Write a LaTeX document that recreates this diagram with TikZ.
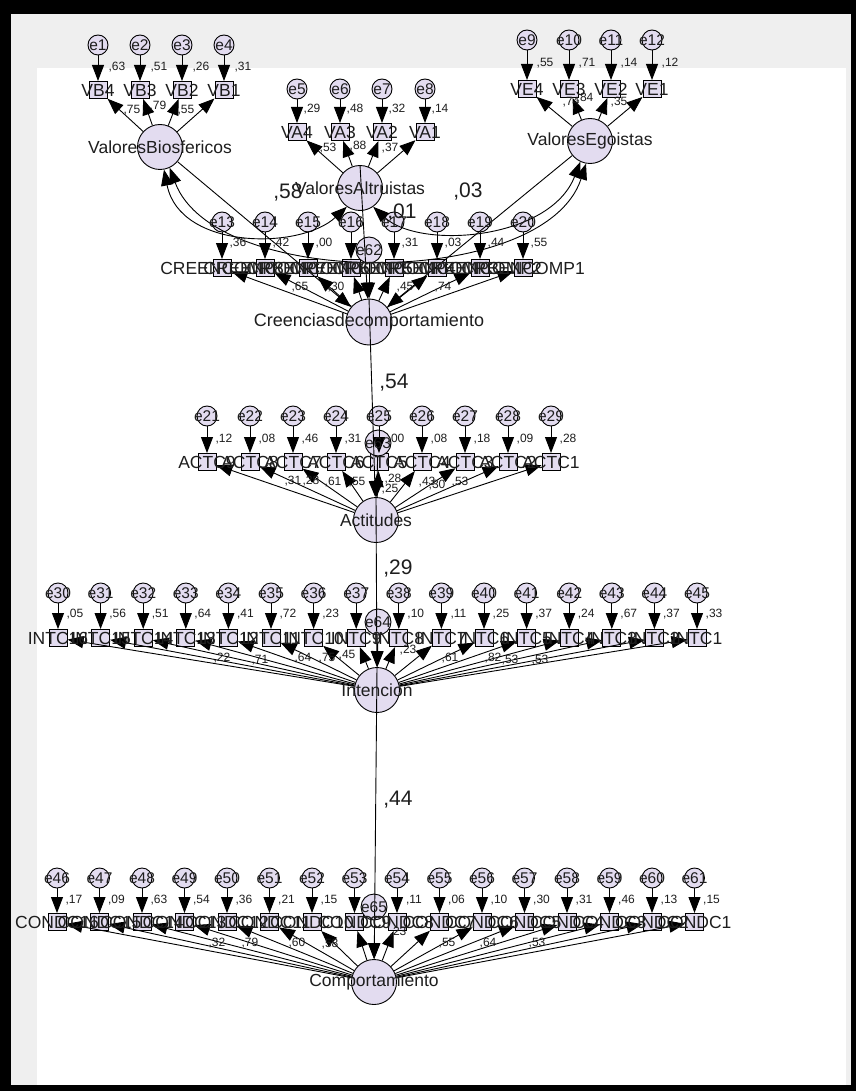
\documentclass[tikz,border=0pt]{standalone}
\usepackage{fontspec}
\setmainfont{Liberation Sans}
\usetikzlibrary{arrows.meta}
\definecolor{lav}{HTML}{E3DCF0}
\definecolor{bggray}{HTML}{EFEFEF}
\definecolor{ink}{HTML}{1E1E1E}
\begin{document}
\begin{tikzpicture}[x=1pt,y=-1pt,
  lat/.style={circle,draw,fill=lav,minimum size=45pt,inner sep=0pt,line width=0.9pt},
  errc/.style={circle,draw,fill=lav,minimum size=20pt,inner sep=0pt,line width=0.9pt},
  resc/.style={circle,draw,fill=lav,minimum size=26pt,inner sep=0pt,line width=0.9pt},
  obs/.style={rectangle,draw,fill=lav,minimum width=18pt,minimum height=17pt,inner sep=0pt,line width=1pt},
  nm/.style={font=\fontsize{17.5}{17.5}\selectfont,inner sep=0pt,text=ink},
  en/.style={font=\fontsize{15.5}{15.5}\selectfont,inner sep=0pt,text=ink},
  val/.style={font=\fontsize{12}{12}\selectfont,inner sep=0pt,text=ink},
  big/.style={font=\fontsize{21}{21}\selectfont,inner sep=0pt,text=ink},
  arr/.style={line width=0.9pt,-{Triangle[length=16pt,width=12pt]}},
  cov/.style={line width=0.9pt,{Triangle[length=16pt,width=12pt]}-{Triangle[length=16pt,width=12pt]}}
]
% frame
\fill[black] (0,0) rectangle (856,1091);
\fill[bggray] (11,14) rectangle (851,1085);
\fill[white] (37,68) rectangle (846,1085);
\useasboundingbox (0,0) rectangle (856,1091);

% latent variables
\node[lat] (VBl) at (160,147) {};
\node[lat] (VAl) at (360,188) {};
\node[lat] (VEl) at (590,141) {};
\node[lat,minimum size=46pt] (Cre) at (369,322) {};
\node[lat] (Act) at (376,520) {};
\node[lat] (Int) at (377,690) {};
\node[lat] (Comp) at (374,982) {};

% VB group
\foreach \i/\x/\n in {1/98/4,2/140/3,3/182/2,4/224/1}{
  \node[obs] (VB\n) at (\x,90) {};
  \node[errc] (e\i) at (\x,45) {};
}
% VA group
\foreach \i/\x/\n in {5/297/4,6/340/3,7/382/2,8/425/1}{
  \node[obs] (VA\n) at (\x,132) {};
  \node[errc] (e\i) at (\x,89) {};
}
% VE group
\foreach \i/\x/\n in {9/527/4,10/569/3,11/611/2,12/652/1}{
  \node[obs] (VE\n) at (\x,89) {};
  \node[errc] (e\i) at (\x,40) {};
}
% Creencias row
\foreach \k in {0,...,7}{
  \pgfmathsetmacro\xx{222+43*\k}
  \pgfmathtruncatemacro\ee{13+\k}
  \pgfmathtruncatemacro\nn{8-\k}
  \node[obs] (CR\nn) at (\xx,268) {};
  \node[errc] (e\ee) at (\xx,222) {};
}
% Actitudes row
\foreach \k in {0,...,8}{
  \pgfmathsetmacro\xx{207+43*\k}
  \pgfmathtruncatemacro\ee{21+\k}
  \pgfmathtruncatemacro\nn{9-\k}
  \node[obs] (AC\nn) at (\xx,462) {};
  \node[errc] (e\ee) at (\xx,416) {};
}
% Intencion row
\foreach \k in {0,...,15}{
  \pgfmathsetmacro\xx{58+42.6*\k}
  \pgfmathtruncatemacro\ee{30+\k}
  \pgfmathtruncatemacro\nn{16-\k}
  \node[obs] (IN\nn) at (\xx,638) {};
  \node[errc] (e\ee) at (\xx,593) {};
}
% Comportamiento row
\foreach \k in {0,...,15}{
  \pgfmathsetmacro\xx{57+42.5*\k}
  \pgfmathtruncatemacro\ee{46+\k}
  \pgfmathtruncatemacro\nn{16-\k}
  \node[obs] (CO\nn) at (\xx,922) {};
  \node[errc] (e\ee) at (\xx,878) {};
}
% residuals
\node[resc] (e62) at (369,250) {};
\node[resc] (e63) at (378,443) {};
\node[resc] (e64) at (378,622) {};
\node[resc] (e65) at (374,907) {};

% error -> indicator arrows and loadings
\foreach \i/\n in {1/4,2/3,3/2,4/1}{\draw[arr] (e\i) -- (VB\n); \draw[arr] (VBl) -- (VB\n);}
\foreach \i/\n in {5/4,6/3,7/2,8/1}{\draw[arr] (e\i) -- (VA\n); \draw[arr] (VAl) -- (VA\n);}
\foreach \i/\n in {9/4,10/3,11/2,12/1}{\draw[arr] (e\i) -- (VE\n); \draw[arr] (VEl) -- (VE\n);}
\foreach \k in {0,...,7}{
  \pgfmathtruncatemacro\ee{13+\k}\pgfmathtruncatemacro\nn{8-\k}
  \draw[arr] (e\ee) -- (CR\nn); \draw[arr] (Cre) -- (CR\nn);}
\foreach \k in {0,...,8}{
  \pgfmathtruncatemacro\ee{21+\k}\pgfmathtruncatemacro\nn{9-\k}
  \draw[arr] (e\ee) -- (AC\nn); \draw[arr] (Act) -- (AC\nn);}
\foreach \k in {0,...,15}{
  \pgfmathtruncatemacro\ee{30+\k}\pgfmathtruncatemacro\nn{16-\k}
  \draw[arr] (e\ee) -- (IN\nn); \draw[arr] (Int) -- (IN\nn);}
\foreach \k in {0,...,15}{
  \pgfmathtruncatemacro\ee{46+\k}\pgfmathtruncatemacro\nn{16-\k}
  \draw[arr] (e\ee) -- (CO\nn); \draw[arr] (Comp) -- (CO\nn);}

% covariances
\draw[cov] (VBl.-80) .. controls (180,250) and (300,250) .. (VAl.-125);
\draw[cov] (VBl.-65) .. controls (215,290) and (545,290) .. (VEl.-100);
\draw[cov] (VAl.-55) .. controls (420,250) and (550,240) .. (VEl.-115);

% structural paths
\draw[arr] (VBl) -- (Cre);
\draw[arr] (VEl) -- (Cre);
\draw[arr] (VAl.north) -- (Cre);
\draw[arr] (e62) -- (Cre);
\draw[arr] (Cre.north) -- (Act);
\draw[arr] (e63) -- (Act);
\draw[arr] (Act.north) -- (Int);
\draw[arr] (e64) -- (Int);
\draw[arr] (Int.north) -- (Comp);
\draw[arr] (e65) -- (Comp);

% ---- texts ----
\foreach \i/\x/\v in {1/98/63,2/140/51,3/182/26,4/224/31}{
  \node[en] at (e\i) {e\i}; \node[val] at (\x+19,67) {,\v};}
\foreach \n in {4,3,2,1}{\node[nm] at (VB\n) {VB\n};}
\foreach \i/\x/\v in {5/297/29,6/340/48,7/382/32,8/425/14}{
  \node[en] at (e\i) {e\i}; \node[val] at (\x+15,109) {,\v};}
\foreach \n in {4,3,2,1}{\node[nm] at (VA\n) {VA\n};}
\foreach \i/\x/\v in {9/527/55,10/569/71,11/611/14,12/652/12}{
  \node[en] at (e\i) {e\i}; \node[val] at (\x+18,63) {,\v};}
\foreach \n in {4,3,2,1}{\node[nm] at (VE\n) {VE\n};}

\foreach \k in {0,...,7}{
  \pgfmathtruncatemacro\ee{13+\k}\pgfmathtruncatemacro\nn{8-\k}
  \node[nm] at (CR\nn) {CREENCOMP\nn};
  \node[en] at (e\ee) {e\ee};}
\foreach \k/\v in {0/36,1/42,2/00,4/31,5/03,6/44,7/55}{
  \node[val] at (222+43*\k+16,243) {,\v};}

\foreach \k in {0,...,8}{
  \pgfmathtruncatemacro\ee{21+\k}\pgfmathtruncatemacro\nn{9-\k}
  \node[nm] at (AC\nn) {ACTC\nn};
  \node[en] at (e\ee) {e\ee};}
\foreach \k/\v in {0/12,1/08,2/46,3/31,4/00,5/08,6/18,7/09,8/28}{
  \node[val] at (207+43*\k+17,439) {,\v};}

\foreach \k in {0,...,15}{
  \pgfmathtruncatemacro\ee{30+\k}\pgfmathtruncatemacro\nn{16-\k}
  \node[nm] at (IN\nn) {INTC\nn};
  \node[en] at (e\ee) {e\ee};}
\foreach \k/\v in {0/05,1/56,2/51,3/64,4/41,5/72,6/23,8/10,9/11,10/25,11/37,12/24,13/67,14/37,15/33}{
  \node[val] at (58+42.6*\k+17,614) {,\v};}

\foreach \k in {0,...,15}{
  \pgfmathtruncatemacro\ee{46+\k}\pgfmathtruncatemacro\nn{16-\k}
  \node[nm] at (CO\nn) {CONDC\nn};
  \node[en] at (e\ee) {e\ee};}
\foreach \k/\v in {0/17,1/09,2/63,3/54,4/36,5/21,6/15,8/11,9/06,10/10,11/30,12/31,13/46,14/13,15/15}{
  \node[val] at (57+42.5*\k+17,900) {,\v};}

% residual labels
\node[en] at (e62) {e62};
\node[en] at (e63) {e63};
\node[en] at (e64) {e64};
\node[en] at (e65) {e65};

% loading values
\foreach \x/\y/\v in {132/110/75,158/106/79,186/110/55,
  328/148/53,358/146/88,390/148/37,
  571/102/74,585/98/84,619/102/35,
  300/287/65,336/287/30,405/287/45,443/287/74,
  293/481/31,311/481/28,333/482/61,357/482/55,393/479/28,390/489/25,427/482/43,437/485/30,460/482/53,
  222/658/22,260/660/71,303/658/64,327/658/75,347/655/45,408/650/23,450/658/61,493/658/82,510/660/53,540/660/53,
  217/943/32,250/943/79,297/943/60,330/944/58,398/932/23,447/943/55,488/943/64,537/943/53}{
  \node[val] at (\x,\y) {,\v};}

% latent names
\node[nm] at (VBl) {ValoresBiosfericos};
\node[nm] at (VAl) {ValoresAltruistas};
\node[nm] at (VEl) {ValoresEgoistas};
\node[nm,font=\fontsize{18}{18}\selectfont] at (Cre) {Creenciasdecomportamiento};
\node[nm] at (Act) {Actitudes};
\node[nm] at (Int) {Intencion};
\node[nm] at (Comp) {Comportamiento};

% structural coefficients
\node[big] at (288,193) {,58};
\node[big] at (468,192) {,03};
\node[big] at (402,213) {,01};
\node[big] at (394,383) {,54};
\node[big] at (398,569) {,29};
\node[big] at (398,800) {,44};
\end{tikzpicture}
\end{document}
